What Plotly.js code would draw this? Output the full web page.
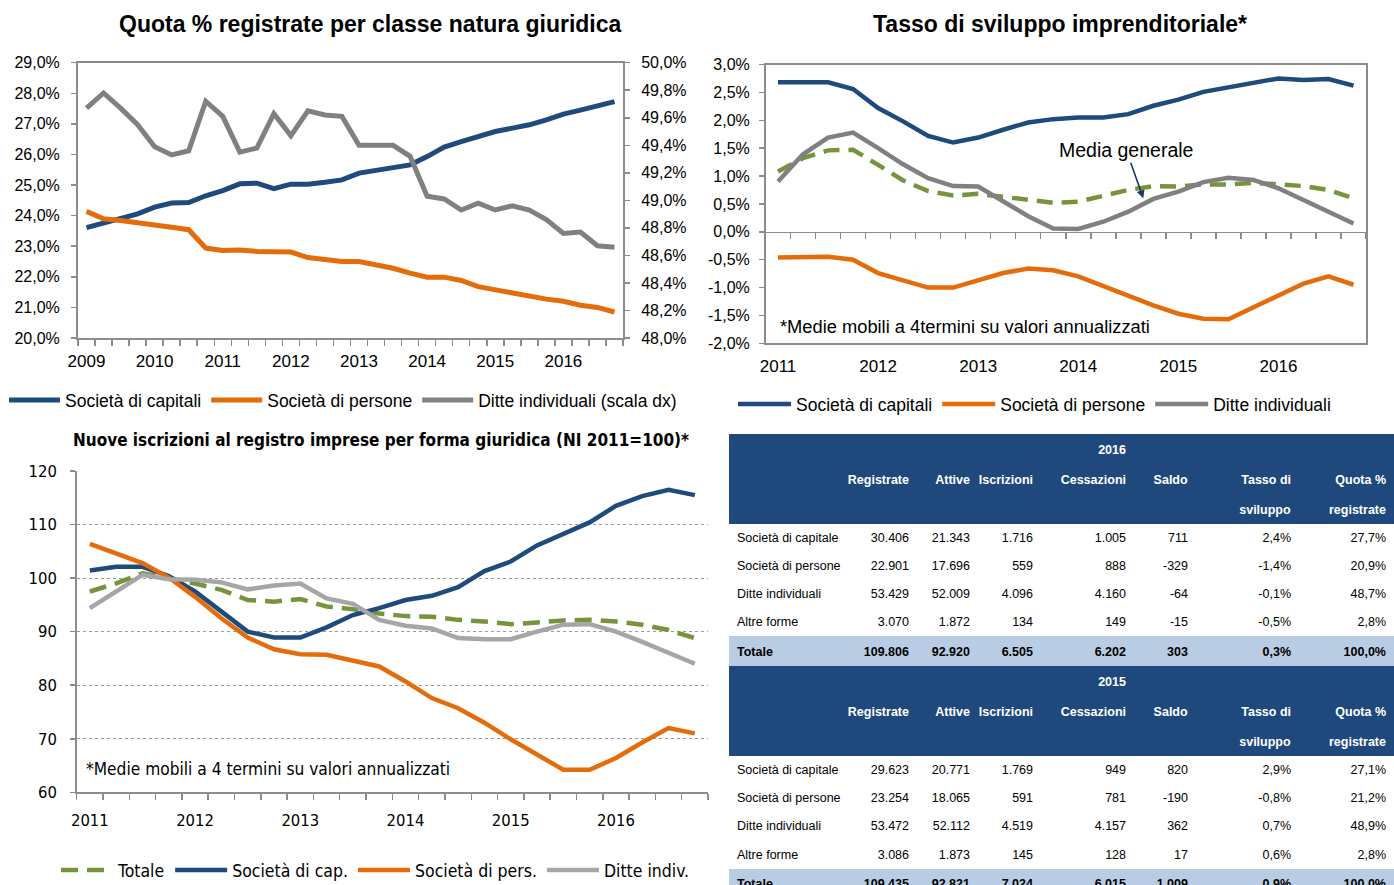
<!DOCTYPE html>
<html><head><meta charset="utf-8">
<script src="https://cdn.plot.ly/plotly-3.0.1.min.js"></script>
<style>
html,body{margin:0;padding:0;background:#fff;overflow:hidden;width:1394px;height:885px}
#wrap{width:1394px;height:885px;overflow:hidden;position:relative}
#chart{width:1394px;height:900px}
</style></head>
<body><div id="wrap"><div id="chart"></div></div>
<script>
// ---------- DATA ----------
// Chart 1: Quota % registrate (quarterly 2009-2016)
const years1 = ['2009','2010','2011','2012','2013','2014','2015','2016'];
const capitali1 = [23.61,23.76,23.92,24.06,24.28,24.41,24.43,24.65,24.82,25.04,25.06,24.88,25.03,25.03,25.09,25.17,25.39,25.47,25.55,25.66,25.93,26.24,26.42,26.58,26.75,26.86,26.97,27.13,27.32,27.45,27.60,27.73];
const persone1 = [24.14,23.90,23.84,23.78,23.70,23.62,23.54,22.94,22.86,22.88,22.83,22.83,22.81,22.63,22.56,22.50,22.50,22.39,22.28,22.12,21.99,21.99,21.88,21.68,21.58,21.45,21.36,21.27,21.20,21.07,21.00,20.85];
const ditte1 = [49.67,49.78,49.67,49.55,49.39,49.33,49.36,49.72,49.61,49.35,49.38,49.63,49.47,49.65,49.62,49.61,49.40,49.40,49.40,49.32,49.03,49.01,48.93,48.98,48.93,48.96,48.93,48.86,48.76,48.77,48.67,48.66];
const leftVals1 = [20,21,22,23,24,25,26,27,28,29];
const leftTicks1 = ['20,0%','21,0%','22,0%','23,0%','24,0%','25,0%','26,0%','27,0%','28,0%','29,0%'];
const rightVals1 = [48,48.2,48.4,48.6,48.8,49,49.2,49.4,49.6,49.8,50];
const rightTicks1 = ['48,0%','48,2%','48,4%','48,6%','48,8%','49,0%','49,2%','49,4%','49,6%','49,8%','50,0%'];

// Chart 2: Tasso di sviluppo imprenditoriale (quarterly 2011-2016)
const years2 = ['2011','2012','2013','2014','2015','2016'];
const capitali2 = [2.68,2.69,2.68,2.56,2.22,1.98,1.72,1.60,1.69,1.83,1.96,2.02,2.05,2.05,2.11,2.26,2.37,2.51,2.59,2.68,2.75,2.72,2.74,2.62];
const persone2 = [-0.46,-0.45,-0.45,-0.50,-0.74,-0.87,-1.00,-1.00,-0.87,-0.74,-0.66,-0.69,-0.80,-0.98,-1.14,-1.32,-1.47,-1.56,-1.57,-1.36,-1.14,-0.93,-0.80,-0.95];
const ditte2 = [0.90,1.39,1.69,1.78,1.50,1.21,0.96,0.82,0.81,0.54,0.28,0.06,0.05,0.18,0.36,0.59,0.72,0.89,0.97,0.93,0.78,0.57,0.36,0.15];
const media2 = [1.08,1.32,1.46,1.47,1.20,0.92,0.73,0.65,0.68,0.63,0.57,0.52,0.54,0.64,0.75,0.82,0.81,0.85,0.85,0.88,0.85,0.82,0.75,0.60];
const vals2 = [-2,-1.5,-1,-0.5,0,0.5,1,1.5,2,2.5,3];
const ticks2 = ['-2,0%','-1,5%','-1,0%','-0,5%','0,0%','0,5%','1,0%','1,5%','2,0%','2,5%','3,0%'];

// Chart 3: Nuove iscrizioni (NI 2011=100)
const years3 = ['2011','2012','2013','2014','2015','2016'];
const totale3 = [97.5,99.0,100.9,100.0,99.0,97.8,95.9,95.6,96.1,94.7,94.2,93.4,92.9,92.8,92.2,91.9,91.4,91.7,92.1,92.2,91.9,91.3,90.3,88.8];
const capitali3 = [101.4,102.1,102.1,100.4,97.5,93.7,90.0,88.9,88.9,90.8,93.1,94.4,95.9,96.7,98.3,101.3,103.1,106.1,108.2,110.4,113.5,115.3,116.5,115.5];
const persone3 = [106.4,104.6,102.8,100.1,96.5,92.5,88.9,86.7,85.8,85.7,84.6,83.5,80.7,77.6,75.7,73.0,69.9,67.0,64.2,64.2,66.4,69.3,72.0,71.0];
const ditte3 = [94.4,97.6,100.6,99.8,99.7,99.2,97.9,98.6,99.0,96.2,95.2,92.2,91.1,90.6,88.8,88.6,88.6,90.0,91.3,91.4,90.0,88.1,86.0,84.0];
const vals3 = [60,70,80,90,100,110,120];
const ticks3 = ['60','70','80','90','100','110','120'];

// Table
const tableCols = ['Registrate','Attive','Iscrizioni','Cessazioni','Saldo','Tasso di','Quota %'];
const tableCols2 = ['','','','','','sviluppo','registrate'];
const rowLabels = ['Società di capitale','Società di persone','Ditte individuali','Altre forme','Totale'];
const year2016 = '2016', year2015 = '2015';
const registrate2016 = [30406,22901,53429,3070,109806];
const attive2016 = [21343,17696,52009,1872,92920];
const iscrizioni2016 = [1716,559,4096,134,6505];
const cessazioni2016 = [1005,888,4160,149,6202];
const saldo2016 = [711,-329,-64,-15,303];
const tasso2016 = [2.4,-1.4,-0.1,-0.5,0.3];
const quota2016 = [27.7,20.9,48.7,2.8,100.0];
const registrate2015 = [29623,23254,53472,3086,109435];
const attive2015 = [20771,18065,52112,1873,92821];
const iscrizioni2015 = [1769,591,4519,145,7024];
const cessazioni2015 = [949,781,4157,128,6015];
const saldo2015 = [820,-190,362,17,1009];
const tasso2015 = [2.9,-0.8,0.7,0.6,0.9];
const quota2015 = [27.1,21.2,48.9,2.8,100.0];

// ---------- STYLE ----------
const W = 1394, H = 900;
const X = px => px / W;
const Y = py => 1 - py / H;
const SANS = '"Liberation Sans", Arial, sans-serif';
const NARROW = '"Liberation Sans Narrow", "Arial Narrow", "DejaVu Sans Condensed", sans-serif';
const BLUE = '#1F4A7C', ORANGE = '#E46C0A', GRAY = '#808080', LGRAY = '#A6A6A6', GREEN = '#77933C', AX = '#8C8C8C';
const HDR = '#1F497D', TOT = '#B8CCE4';

const idx = a => a.map((_, i) => i);
const every4 = n => { const r = []; for (let i = 0; i < n; i += 4) r.push(i); return r; };
const bounds = n => { const r = []; for (let i = 0; i <= n; i++) r.push(i - 0.5); return r; };

function fmtInt(n) {
  const s = Math.abs(n).toString().replace(/\B(?=(\d{3})+(?!\d))/g, '.');
  return (n < 0 ? '-' : '') + s;
}
const fmtPct = v => v.toFixed(1).replace('.', ',') + '%';
const nb = s => s.replace(/ /g, '\u00a0');

// ---------- TRACES ----------
const traces = [];
// chart 1
traces.push({x: idx(capitali1), y: capitali1, xaxis: 'x', yaxis: 'y', mode: 'lines', name: 'Società di capitali', line: {color: BLUE, width: 5}, legend: 'legend'});
traces.push({x: idx(persone1), y: persone1, xaxis: 'x', yaxis: 'y', mode: 'lines', name: 'Società di persone', line: {color: ORANGE, width: 5}, legend: 'legend'});
traces.push({x: idx(ditte1), y: ditte1, xaxis: 'x', yaxis: 'y2', mode: 'lines', name: 'Ditte individuali (scala dx)', line: {color: GRAY, width: 5}, legend: 'legend'});
// chart 2
traces.push({x: idx(media2), y: media2, xaxis: 'x2', yaxis: 'y3', mode: 'lines', name: 'Media generale', line: {color: GREEN, width: 4.5, dash: '16px,9px'}, showlegend: false});
traces.push({x: idx(ditte2), y: ditte2, xaxis: 'x2', yaxis: 'y3', mode: 'lines', name: 'Ditte individuali', line: {color: GRAY, width: 4.5}, legend: 'legend2'});
traces.push({x: idx(persone2), y: persone2, xaxis: 'x2', yaxis: 'y3', mode: 'lines', name: 'Società di persone', line: {color: ORANGE, width: 4.5}, legend: 'legend2'});
traces.push({x: idx(capitali2), y: capitali2, xaxis: 'x2', yaxis: 'y3', mode: 'lines', name: 'Società di capitali', line: {color: BLUE, width: 4.5}, legend: 'legend2'});
traces.push({x: [0], y: [0], xaxis: 'x3', yaxis: 'y3', mode: 'markers', marker: {opacity: 0}, showlegend: false, hoverinfo: 'skip'});
// chart 3
traces.push({x: idx(totale3), y: totale3, xaxis: 'x4', yaxis: 'y4', mode: 'lines', name: 'Totale', line: {color: GREEN, width: 4.5, dash: '17px,9px'}, legend: 'legend3'});
traces.push({x: idx(capitali3), y: capitali3, xaxis: 'x4', yaxis: 'y4', mode: 'lines', name: 'Società di cap.', line: {color: BLUE, width: 4.5}, legend: 'legend3'});
traces.push({x: idx(persone3), y: persone3, xaxis: 'x4', yaxis: 'y4', mode: 'lines', name: 'Società di pers.', line: {color: ORANGE, width: 4.5}, legend: 'legend3'});
traces.push({x: idx(ditte3), y: ditte3, xaxis: 'x4', yaxis: 'y4', mode: 'lines', name: 'Ditte indiv.', line: {color: LGRAY, width: 4.5}, legend: 'legend3'});
traces.forEach((t, i) => { t.legendrank = i; });

// ---------- TABLE ----------
const b = s => s === '' ? '' : '<b>' + nb(s) + '</b>';
function block(year, reg, att, isc, ces, sal, tas, quo, withTop) {
  const cols = [[], [], [], [], [], [], [], []];
  const hdrTop = ['', '', '', year, '', '', ''];
  if (withTop) cols[0].push('');
  cols[0].push('', '');
  for (let c = 0; c < 7; c++) {
    if (withTop) cols[c + 1].push(b(hdrTop[c]));
    cols[c + 1].push(b(tableCols[c]), b(tableCols2[c]));
  }
  for (let r = 0; r < 5; r++) {
    const tot = r === 4;
    const f = s => tot ? b(s) : nb(s);
    cols[0].push(f(rowLabels[r]));
    cols[1].push(f(fmtInt(reg[r])));
    cols[2].push(f(fmtInt(att[r])));
    cols[3].push(f(fmtInt(isc[r])));
    cols[4].push(f(fmtInt(ces[r])));
    cols[5].push(f(fmtInt(sal[r])));
    cols[6].push(f(fmtPct(tas[r])));
    cols[7].push(f(fmtPct(quo[r])));
  }
  return cols;
}
const headerVals = ['', '', '', '', b(year2016), '', '', ''];
const b1 = block(year2016, registrate2016, attive2016, iscrizioni2016, cessazioni2016, saldo2016, tasso2016, quota2016, false);
const b2 = block(year2015, registrate2015, attive2015, iscrizioni2015, cessazioni2015, saldo2015, tasso2015, quota2015, true);
const cellVals = b1.map((c, i) => c.concat(b2[i]));
const rowFill = [HDR, HDR, '#FFFFFF', '#FFFFFF', '#FFFFFF', '#FFFFFF', TOT,
                 HDR, HDR, HDR, '#FFFFFF', '#FFFFFF', '#FFFFFF', '#FFFFFF', TOT];
const rowFont = rowFill.map(c => c === HDR ? '#FFFFFF' : '#000000');
const fillCols = cellVals.map(() => rowFill.slice());
const fontCols = cellVals.map(() => rowFont.slice());
const aligns = ['left', 'right', 'right', 'right', 'right', 'right', 'right', 'right'];
traces.push({
  type: 'table',
  domain: {x: [X(729), 1], y: [0, Y(434.5)]},
  columnwidth: [116, 72, 61, 63, 93, 62, 103, 95],
  header: {
    values: headerVals, height: 28.1, align: aligns,
    fill: {color: HDR}, line: {color: HDR, width: 1},
    font: {family: SANS, size: 12.5, color: '#FFFFFF'}
  },
  cells: {
    values: cellVals,
    height: 28.1,
    align: aligns,
    fill: {color: fillCols},
    line: {color: fillCols, width: 1},
    font: {family: SANS, size: 12.5, color: fontCols}
  }
});

// ---------- LAYOUT ----------
const tf = {family: SANS, size: 16, color: '#000'};
const tfX = {family: SANS, size: 17, color: '#000'};
const tfN = {family: NARROW, size: 16.5, color: '#000'};
const y3dom = [Y(343.3), Y(64.5)];
const zeroPos = y3dom[0] + (0 - (-2)) / (3 - (-2)) * (y3dom[1] - y3dom[0]);

const layout = {
  width: W, height: H,
  margin: {l: 0, r: 0, t: 0, b: 0, pad: 0},
  paper_bgcolor: '#fff', plot_bgcolor: 'rgba(0,0,0,0)',
  showlegend: true,
  font: {family: SANS, size: 16, color: '#000'},
  xaxis: {
    domain: [X(78), X(623)], anchor: 'y', range: [-0.5, capitali1.length - 0.5],
    tickmode: 'array', tickvals: every4(capitali1.length), ticktext: years1, ticks: '',
    showline: true, linecolor: AX, linewidth: 2, mirror: true, showgrid: false, zeroline: false,
    tickfont: tfX, ticklabelstandoff: 7,
    minor: {tickmode: 'array', tickvals: bounds(capitali1.length), ticks: 'outside', ticklen: 6, tickcolor: AX, tickwidth: 1.5, showgrid: false}
  },
  yaxis: {
    domain: [Y(338), Y(62.7)], anchor: 'x', range: [20, 29],
    tickmode: 'array', tickvals: leftVals1, ticktext: leftTicks1, ticks: 'outside', ticklen: 5, tickcolor: AX, tickwidth: 1.5,
    showline: true, linecolor: AX, linewidth: 2, showgrid: false, zeroline: false, tickfont: tf, ticklabelstandoff: 8
  },
  yaxis2: {
    overlaying: 'y', side: 'right', anchor: 'x', range: [48, 50],
    tickmode: 'array', tickvals: rightVals1, ticktext: rightTicks1, ticks: 'outside', ticklen: 5, tickcolor: AX, tickwidth: 1.5,
    showline: true, linecolor: AX, linewidth: 2, showgrid: false, zeroline: false, tickfont: tf, ticklabelstandoff: 8
  },
  xaxis2: {
    domain: [X(765.5), X(1366)], anchor: 'y3', range: [-0.5, capitali2.length - 0.5],
    tickmode: 'array', tickvals: every4(capitali2.length), ticktext: years2, ticks: '',
    showline: true, linecolor: AX, linewidth: 1.5, mirror: true, showgrid: false, zeroline: false,
    tickfont: tfX, ticklabelstandoff: 7
  },
  xaxis3: {
    overlaying: 'x2', anchor: 'free', position: zeroPos, range: [-0.5, capitali2.length - 0.5],
    tickmode: 'array', tickvals: bounds(capitali2.length), ticks: 'outside', ticklen: 6, tickcolor: AX, tickwidth: 1.5,
    showticklabels: false, showline: true, linecolor: AX, linewidth: 1.5, showgrid: false, zeroline: false
  },
  yaxis3: {
    domain: y3dom, anchor: 'x2', range: [-2, 3],
    tickmode: 'array', tickvals: vals2, ticktext: ticks2, ticks: 'outside', ticklen: 5, tickcolor: AX, tickwidth: 1.5,
    showline: true, linecolor: AX, linewidth: 1.5, mirror: true, showgrid: false, zeroline: false, tickfont: tf, ticklabelstandoff: 6
  },
  xaxis4: {
    domain: [X(76.7), X(708)], anchor: 'y4', range: [-0.5, capitali3.length - 0.5],
    tickmode: 'array', tickvals: every4(capitali3.length), ticktext: years3, ticks: '',
    showline: true, linecolor: AX, linewidth: 1.5, showgrid: false, zeroline: false,
    tickfont: tfN, ticklabelstandoff: 12,
    minor: {tickmode: 'array', tickvals: bounds(capitali3.length), ticks: 'outside', ticklen: 6, tickcolor: AX, tickwidth: 1.5, showgrid: false}
  },
  yaxis4: {
    domain: [Y(792.3), Y(471)], anchor: 'x4', range: [60, 120],
    tickmode: 'array', tickvals: vals3, ticktext: ticks3, ticks: 'outside', ticklen: 5, tickcolor: AX, tickwidth: 1.5,
    showline: true, linecolor: AX, linewidth: 1.5, showgrid: true, gridcolor: '#9A9A9A', gridwidth: 1, griddash: 'dot',
    zeroline: false, tickfont: tfN, ticklabelstandoff: 10
  },
  legend: {x: X(4), y: Y(400), xanchor: 'left', yanchor: 'middle', orientation: 'h', font: {family: SANS, size: 17.5, color: '#000'},
    bgcolor: 'rgba(0,0,0,0)', itemwidth: 51, traceorder: 'normal', tracegroupgap: 0},
  legend2: {x: X(733), y: Y(404), xanchor: 'left', yanchor: 'middle', orientation: 'h', font: {family: SANS, size: 17.5, color: '#000'},
    bgcolor: 'rgba(0,0,0,0)', itemwidth: 53, traceorder: 'reversed', tracegroupgap: 0},
  legend3: {x: X(56), y: Y(870), xanchor: 'left', yanchor: 'middle', orientation: 'h', font: {family: NARROW, size: 17.5, color: '#000'},
    bgcolor: 'rgba(0,0,0,0)', traceorder: 'normal', tracegroupgap: 0, itemwidth: 52},
  annotations: [
    {xref: 'paper', yref: 'paper', x: X(370), y: Y(24), xanchor: 'center', yanchor: 'middle', showarrow: false,
      text: '<b>Quota % registrate per classe natura giuridica</b>', font: {family: SANS, size: 23, color: '#000'}},
    {xref: 'paper', yref: 'paper', x: X(1060), y: Y(24), xanchor: 'center', yanchor: 'middle', showarrow: false,
      text: '<b>Tasso di sviluppo imprenditoriale*</b>', font: {family: SANS, size: 23, color: '#000'}},
    {xref: 'paper', yref: 'paper', x: X(381), y: Y(440), xanchor: 'center', yanchor: 'middle', showarrow: false,
      text: '<b>Nuove iscrizioni al registro imprese per forma giuridica (NI 2011=100)*</b>', font: {family: NARROW, size: 17, color: '#000'}},
    {xref: 'paper', yref: 'paper', x: X(778), y: Y(326), xanchor: 'left', yanchor: 'middle', showarrow: false,
      text: '*Medie mobili a 4termini su valori annualizzati', font: {family: SANS, size: 18.3, color: '#000'}},
    {xref: 'paper', yref: 'paper', x: X(84), y: Y(769), xanchor: 'left', yanchor: 'middle', showarrow: false,
      text: '*Medie mobili a 4 termini su valori annualizzati', font: {family: NARROW, size: 17.2, color: '#000'}},
    {xref: 'x2', yref: 'y3', x: 14.6, y: 0.6, ax: -17, ay: -48, axref: 'pixel', ayref: 'pixel', showarrow: true,
      arrowhead: 2, arrowsize: 1, arrowwidth: 1.6, arrowcolor: '#1F3864',
      text: 'Media generale', font: {family: SANS, size: 19.5, color: '#000'}}
  ]
};

Plotly.newPlot('chart', traces, layout, {staticPlot: true, displayModeBar: false});
</script></body></html>
